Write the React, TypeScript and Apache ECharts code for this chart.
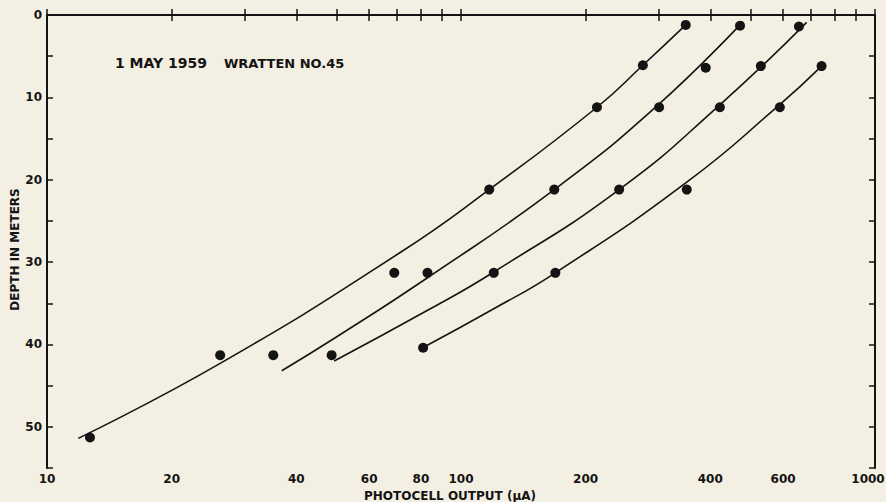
import React, { useEffect, useRef } from "react";
import * as echarts from "echarts";

// ---- observed points (photocell output µA, depth m) ----
const outputA = [349, 275, 213, 117, 69, 26.2, 12.7];
const depthA = [1.2, 6.1, 11.2, 21.2, 31.3, 41.3, 51.3];
const outputB = [472, 390, 301, 168, 83, 35.2];
const depthB = [1.3, 6.4, 11.2, 21.2, 31.3, 41.3];
const outputC = [655, 530, 422, 241, 120, 48.7];
const depthC = [1.4, 6.2, 11.2, 21.2, 31.3, 41.3];
const outputD = [743, 589, 351, 169, 81];
const depthD = [6.2, 11.2, 21.2, 31.3, 40.4];

// ---- fitted curves ----
const curveAOut = [11.9, 26.2, 71, 117, 213, 275, 349];
const curveADep = [51.4, 42.3, 28.9, 21.2, 11.2, 6.1, 1.2];
const curveBOut = [36.9, 50, 83, 168, 298, 480];
const curveBDep = [43.2, 39.1, 31.9, 21.2, 11.0, 0.8];
const curveCOut = [49.4, 84.1, 120, 241, 420, 684];
const curveCDep = [42.0, 35.7, 31.2, 21.2, 11.0, 0.9];
const curveDOut = [80.8, 119.7, 169, 351, 585, 743];
const curveDDep = [40.4, 35.7, 31.3, 20.3, 11.0, 6.2];

// ---- axis ticks ----
const xTickValues = [10, 20, 30, 40, 50, 60, 70, 80, 90, 100, 200, 300, 400, 500, 600, 700, 800, 900, 1000];
const xLabelValues = [10, 20, 40, 60, 80, 100, 200, 400, 600, 1000];
const yMin = 0;
const yMax = 55;
const yInterval = 5;

const titleDate = "1 MAY 1959";
const titleFilter = "WRATTEN NO.45";
const xName = "PHOTOCELL OUTPUT (μA)";
const yName = "DEPTH IN METERS";

const BG = "#f3efe2";
const INK = "#141414";
const FONT = "DejaVu Sans";

const zip = (xs: number[], ys: number[]) => xs.map((x, i) => [x, ys[i]]);

export default function App() {
  const ref = useRef<HTMLDivElement>(null);
  useEffect(() => {
    document.body.style.margin = "0";
    document.body.style.background = BG;
    const chart = echarts.init(ref.current!, null, { renderer: "svg" });
    const xCommon = {
      type: "log" as const,
      logBase: 10,
      min: 10,
      max: 1000,
      splitLine: { show: false },
      minorTick: { show: false },
      axisLine: { show: true, lineStyle: { color: INK, width: 2 } },
      axisTick: { show: true, inside: true, length: 6, customValues: xTickValues, lineStyle: { color: INK, width: 1.5 } },
    };
    const yCommon = {
      type: "value" as const,
      inverse: true,
      min: yMin,
      max: yMax,
      interval: yInterval,
      splitLine: { show: false },
      axisLine: { show: true, lineStyle: { color: INK, width: 2 } },
      axisTick: { show: true, inside: true, length: 6, lineStyle: { color: INK, width: 1.5 } },
    };
    const scatter = (d: number[][]) => ({
      type: "scatter",
      data: d,
      symbol: "circle",
      symbolSize: 10,
      itemStyle: { color: INK, opacity: 1 },
      z: 3,
    });
    const curve = (d: number[][]) => ({
      type: "line",
      data: d,
      smooth: 0.5,
      showSymbol: false,
      lineStyle: { color: INK, width: 1.6 },
      z: 2,
    });
    chart.setOption({
      animation: false,
      backgroundColor: BG,
      grid: { left: 47, right: 11, top: 15, bottom: 34, outerBoundsMode: "none", containLabel: false },
      xAxis: [
        {
          ...xCommon,
          position: "bottom",
          name: xName,
          nameLocation: "middle",
          nameGap: 18,
          nameTextStyle: { color: INK, fontFamily: FONT, fontWeight: "bold", fontSize: 12, padding: [3, 22, 0, 0] },
          axisLabel: {
            show: true,
            customValues: xLabelValues,
            margin: 5,
            color: INK,
            fontFamily: FONT,
            fontWeight: "bold",
            fontSize: 12,
            formatter: (v: number) => {
              const r = Math.round(v);
              return r === 1000 ? `{edge|${r}}` : String(r);
            },
            rich: {
              edge: { color: INK, fontFamily: FONT, fontWeight: "bold", fontSize: 12, padding: [0, 14, 0, 0] },
            },
          },
        },
        {
          ...xCommon,
          position: "top",
          axisLabel: { show: false },
        },
      ],
      yAxis: [
        {
          ...yCommon,
          position: "left",
          name: yName,
          nameLocation: "middle",
          nameGap: 26,
          nameMoveOverlap: false,
          nameTextStyle: { color: INK, fontFamily: FONT, fontWeight: "bold", fontSize: 12, padding: [0, 16, 0, 0] },
          axisLabel: {
            show: true,
            margin: 5,
            color: INK,
            fontFamily: FONT,
            fontWeight: "bold",
            fontSize: 12,
            formatter: (v: number) => (v % 10 === 0 && v <= 50 ? String(v) : ""),
          },
        },
        {
          ...yCommon,
          position: "right",
          axisLabel: { show: false },
        },
      ],
      graphic: [
        {
          type: "text",
          left: 115,
          top: 56,
          style: { text: titleDate, fill: INK, font: `bold 14px "${FONT}"` },
        },
        {
          type: "text",
          left: 224,
          top: 57,
          style: { text: titleFilter, fill: INK, font: `bold 13px "${FONT}"` },
        },
      ],
      series: [
        curve(zip(curveAOut, curveADep)),
        curve(zip(curveBOut, curveBDep)),
        curve(zip(curveCOut, curveCDep)),
        curve(zip(curveDOut, curveDDep)),
        scatter(zip(outputA, depthA)),
        scatter(zip(outputB, depthB)),
        scatter(zip(outputC, depthC)),
        scatter(zip(outputD, depthD)),
      ],
    });
    return () => chart.dispose();
  }, []);
  return (
    <div
      ref={ref}
      style={{ position: "fixed", left: 0, top: 0, width: 886, height: 502, background: BG }}
    />
  );
}
